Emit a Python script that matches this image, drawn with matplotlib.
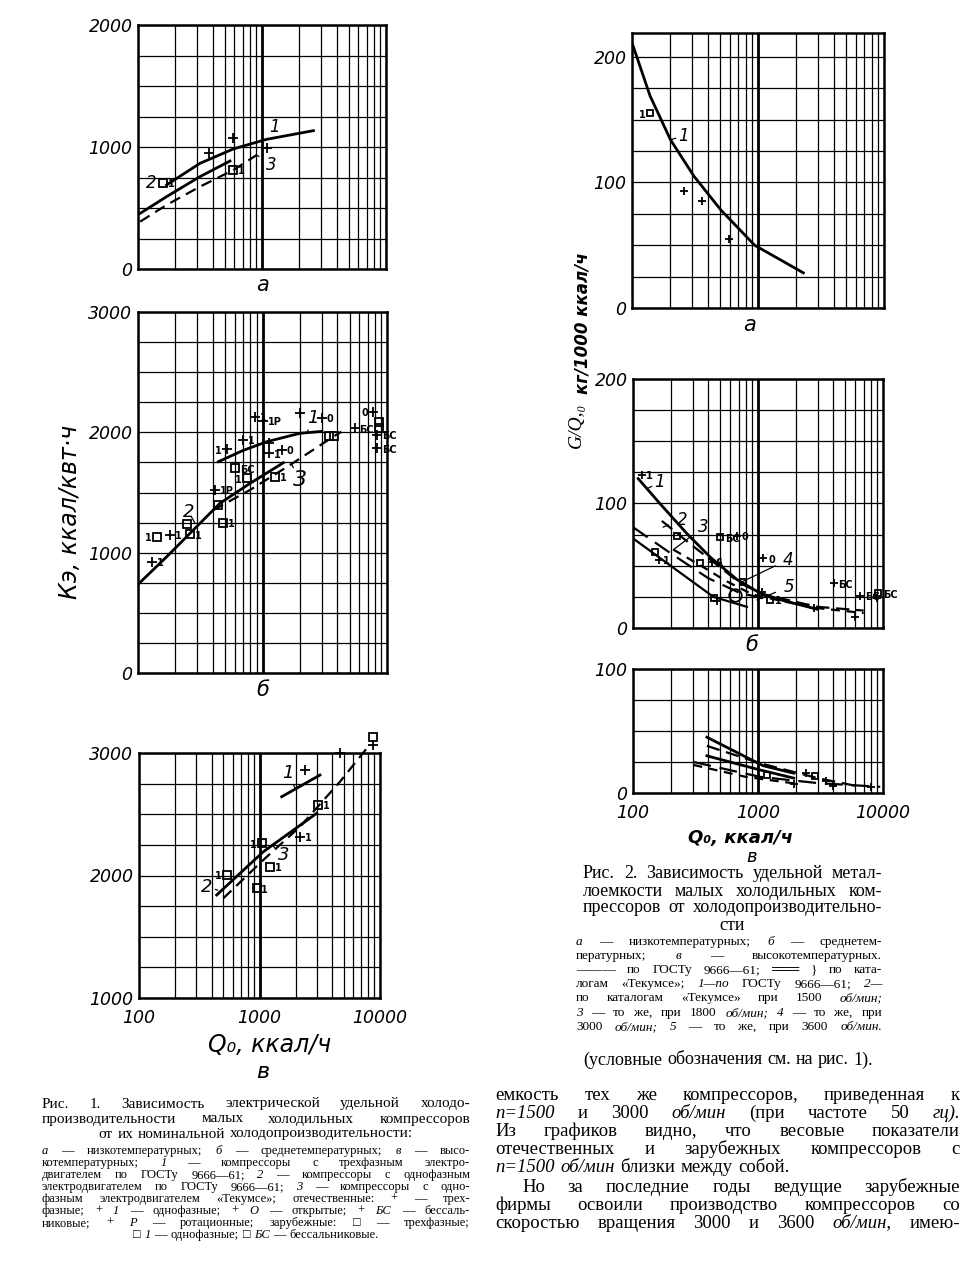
"""Recreation of a scanned page: two nomogram-style figures (Рис. 1, Рис. 2)
with their captions and a piece of body text."""

import matplotlib
matplotlib.use("Agg")
import matplotlib.pyplot as plt
import numpy as np
from matplotlib.ticker import FixedLocator

W, H = 972, 1284
SANS = ["DejaVu Sans"]
SERIF = ["Liberation Serif", "DejaVu Serif"]

# ---------------- Рис. 1 а (низкотемпературные) ----------------
LA_C1_X = [170, 316, 587, 1091, 2600]
LA_C1_Y = [689, 866, 984, 1063, 1134]
LA_C2_X = [104, 170, 316, 552]
LA_C2_Y = [456, 593, 757, 885]
LA_C3_X = [104, 170, 316, 587, 906]
LA_C3_Y = [388, 525, 675, 811, 934]
LA_PLUS_X = [376, 587, 1091]
LA_PLUS_Y = [948, 1071, 989]
LA_SQ_X = [160, 587]
LA_SQ_Y = [707, 811]
LA_SQ_LAB = ["1", "1"]

# ---------------- Рис. 1 б (среднетемпературные) ----------------
LB_C1_X = [442, 700, 1082, 2000, 3000]
LB_C1_Y = [1756, 1850, 1922, 1992, 2008]
LB_C2_X = [102, 170, 278, 455, 794, 1470]
LB_C2_Y = [745, 966, 1188, 1410, 1576, 1747]
LB_C3_X = [402, 794, 1660, 3705, 4300]
LB_C3_Y = [1354, 1521, 1728, 1964, 2005]
LB_PLUS_X = [129, 180, 416, 516, 693, 871, 1013, 1136, 1136, 1426, 2000, 2990, 5500, 7770, 8300, 8300]
LB_PLUS_Y = [925, 1147, 1521, 1858, 1936, 2130, 2094, 1908, 1825, 1853, 2157, 2122, 2033, 2171, 1980, 1866]
LB_PLUS_LAB = ["1", "1", "1P", "1", "1", "1", "1P", "", "1", "0", "", "0", "БС", "0", "БС", "БС"]
LB_PLUS_SIDE = ["r", "r", "r", "l", "r", "r", "r", "r", "r", "r", "r", "r", "r", "l", "r", "r"]
LB_SQ_X = [141, 262, 246, 484, 442, 601, 746, 1260, 3400, 3750, 8700, 8700]
LB_SQ_Y = [1133, 1153, 1236, 1249, 1400, 1701, 1618, 1631, 1972, 1972, 2090, 2040]
LB_SQ_LAB = ["1", "1", "", "1", "", "БС", "1", "1", "", "", "", ""]
LB_SQ_SIDE = ["l", "r", "r", "r", "r", "r", "l", "r", "r", "r", "r", "r"]

# ---------------- Рис. 1 в (высокотемпературные) ----------------
LV_C1_X = [1528, 3177]
LV_C1_Y = [2643, 2820]
LV_C2_X = [441, 1076, 2985]
LV_C2_Y = [1841, 2194, 2508]
LV_C3_X = [501, 1076, 2167, 4656, 7765]
LV_C3_Y = [1814, 2127, 2398, 2766, 3038]
LV_PLUS_X = [2390, 2167, 4656, 8800]
LV_PLUS_Y = [2861, 2317, 2997, 3065]
LV_PLUS_LAB = ["", "1", "", ""]
LV_SQ_X = [3067, 1042, 1222, 533, 945, 8800]
LV_SQ_Y = [2576, 2263, 2072, 2004, 1895, 3133]
LV_SQ_LAB = ["1", "1", "1", "1", "1", "1"]
LV_SQ_SIDE = ["r", "l", "r", "l", "r", "r"]

# ---------------- Рис. 2 а ----------------
RA_C1_X = [101, 139, 202, 310, 508, 940, 2290]
RA_C1_Y = [210, 169, 134, 105, 78, 50, 28]
RA_PLUS_X = [258, 362, 585]
RA_PLUS_Y = [93, 85, 55]
RA_SQ_X = [140]
RA_SQ_Y = [155]

# ---------------- Рис. 2 б ----------------
RB_C1_X = [110, 164, 269, 414, 678, 1037, 1600, 3000]
RB_C1_Y = [120, 100, 76, 57, 39, 28, 22, 15]
RB_C2_X = [170, 300, 440, 720, 1100, 3000, 7000]
RB_C2_Y = [86, 66, 53, 36, 27, 17, 14]
RB_C3_X = [210, 350, 550, 900, 1500, 3000, 7000]
RB_C3_Y = [63, 50, 38, 27, 22, 16, 12]
RB_C4_X = [100, 200, 400, 720, 1100]
RB_C4_Y = [81, 60, 40, 28, 24]
RB_C5_X = [100, 200, 440, 815]
RB_C5_Y = [72, 50, 25, 17]
RB_PLUS_X = [117, 160, 428, 480, 680, 470, 1076, 1100, 2790, 4030, 6020, 6600, 9000]
RB_PLUS_Y = [123, 55, 53, 52, 74, 22, 29, 56, 16, 36, 9, 26, 24]
RB_PLUS_LAB = ["1", "1", "1", "", "0", "", "", "0", "", "БС", "", "БС", ""]
RB_SQ_X = [224, 150, 345, 441, 500, 757, 1256, 9200]
RB_SQ_Y = [74, 61, 52, 24, 73, 37, 22.5, 28]
RB_SQ_LAB = ["", "", "", "", "БС", "", "1", "БС"]
RB_CIRC_X = [657]
RB_CIRC_Y = [26.5]

# ---------------- Рис. 2 в ----------------
RV_C1_X = [390, 700, 1100, 1930]
RV_C1_Y = [45, 32, 22, 16]
RV_C2_X = [390, 1040, 3000, 6600]
RV_C2_Y = [38, 24, 12, 5]
RV_C3_X = [390, 1000, 1930]
RV_C3_Y = [30, 19, 12]
RV_C4_X = [305, 1040, 3000, 9500]
RV_C4_Y = [25, 13, 8, 5]
RV_C5_X = [305, 800, 1930]
RV_C5_Y = [22.6, 13, 7.8]
RV_PLUS_X = [2400, 1930, 3500, 4000, 8000]
RV_PLUS_Y = [16, 7, 10, 6, 5]
RV_SQ_X = [1180, 2870]
RV_SQ_Y = [14.5, 13.7]

X_MAJOR = [100, 1000, 10000]
X_LABELS = ["100", "1000", "10000"]

CAP1_HEAD = [
    "Рис. 1. Зависимость  электрической удельной  холодо-",
    "производительности  малых  холодильных  компрессоров",
    "от  их  номинальной  холодопроизводительности:",
]
CAP1_BODY = [
    "~а — низкотемпературных; ~б — среднетемпературных; ~в — высо-",
    "котемпературных; ~1 — компрессоры с трехфазным электро-",
    "двигателем по ГОСТу 9666—61; ~2 — компрессоры с однофазным",
    "электродвигателем по ГОСТу 9666—61; ~3 — компрессоры с одно-",
    "фазным электродвигателем «Текумсе»; отечественные: + — трех-",
    "фазные; + ~1 — однофазные; + ~О — открытые; + ~БС — бессаль-",
    "никовые; + ~Р — ротационные; зарубежные: □ — трехфазные;",
    "□ ~1 — однофазные; □ ~БС — бессальниковые.",
]
CAP2_HEAD = [
    "Рис. 2. Зависимость удельной метал-",
    "лоемкости малых холодильных ком-",
    "прессоров от холодопроизводительно-",
    "сти",
]
CAP2_BODY = [
    "~а — низкотемпературных; ~б — среднетем-",
    "пературных; ~в — высокотемпературных.",
    "——— по ГОСТу 9666—61; ═══ } по ката-",
    "логам «Текумсе»; ~1—по ГОСТу 9666—61; ~2—",
    "по каталогам «Текумсе» при 1500 ~об/мин;",
    "~3 — то же, при 1800 ~об/мин; ~4 — то же, при",
    "3000 ~об/мин; ~5 — то же, при 3600 ~об/мин.",
]
CAP2_NOTE = "(условные обозначения см. на рис. 1)."
BODY = [
    "емкость тех же компрессоров, приведенная к",
    "~n=1500 и 3000 ~об/мин (при частоте 50 ~гц).",
    "Из графиков видно, что весовые показатели",
    "отечественных и зарубежных компрессоров с",
    "~n=1500 ~об/мин близки между собой.",
    "Но за последние годы ведущие зарубежные",
    "фирмы освоили производство компрессоров со",
    "скоростью вращения 3000 и 3600 ~об/мин, имею-",
]


def fx(px):
    return px / W


def fy(py):
    return 1 - py / H


def panel(fig, box, ymin, ymax, ystep, yticks, ylabels, xlabels=False):
    x0, y0, x1, y1 = box
    ax = fig.add_axes([fx(x0), fy(y1), (x1 - x0) / W, (y1 - y0) / H])
    ax.set_xscale("log")
    ax.set_xlim(100, 10000)
    ax.set_ylim(ymin, ymax)
    ax.xaxis.set_major_locator(FixedLocator(X_MAJOR))
    ax.xaxis.set_minor_locator(
        FixedLocator([k * 10 ** d for d in (2, 3) for k in range(2, 10)]))
    ax.yaxis.set_major_locator(FixedLocator(yticks))
    ax.yaxis.set_minor_locator(FixedLocator(np.arange(ymin, ymax + 1, ystep)))
    ax.grid(True, which="both", color="black", lw=0.9)
    ax.axvline(1000, color="black", lw=2.0)
    ax.tick_params(which="both", length=0)
    ax.tick_params(axis="y", pad=4)
    ax.tick_params(axis="x", pad=8)
    ax.set_yticklabels(ylabels, fontsize=12.5, fontstyle="italic", family=SANS)
    if xlabels:
        ax.set_xticklabels(X_LABELS, fontsize=12.5, fontstyle="italic", family=SANS)
    else:
        ax.set_xticklabels([])
    for s in ax.spines.values():
        s.set_linewidth(1.8)
    return ax


def curve(ax, xs, ys, style="-", lw=2.0, clip=True):
    if style == "-":
        ax.plot(xs, ys, "-", color="black", lw=lw, clip_on=clip)
    else:
        ax.plot(xs, ys, color="black", lw=lw * 0.8, dashes=style, clip_on=clip)


def marks(ax, xs, ys, marker, labels=None, sides=None, ms=7):
    ax.plot(xs, ys, ls="none", marker=marker, ms=ms, mfc="none", mec="black",
            mew=1.3, clip_on=False, zorder=4)
    if labels is None:
        return
    sides = sides or ["r"] * len(labels)
    for x, y, lab, sd in zip(xs, ys, labels, sides):
        if not lab:
            continue
        off = 3.5 if sd == "r" else -3.5
        ax.annotate(lab, (x, y), xytext=(off, -1), textcoords="offset points",
                    fontsize=7, ha="left" if sd == "r" else "right",
                    va="center", family=SANS, fontweight="bold")


def tag(ax, text, xy, xyt, size=12):
    ax.annotate(text, xy=xy, xytext=xyt, fontsize=size, fontstyle="italic",
                family=SANS, ha="center", va="center",
                arrowprops=dict(arrowstyle="-", lw=0.9, shrinkA=4, shrinkB=0))


def put_line(fig, r, text, x0, x1, y, size, mode="justify"):
    """Place one line of caption text word by word, justified or centred."""
    words = text.split()
    styles = []
    for i, w in enumerate(words):
        if w.startswith("~"):
            styles.append("italic")
            words[i] = w[1:]
        else:
            styles.append("normal")
    n = len(words)
    while True:
        arts = [fig.text(0, fy(y), w, fontsize=size, family=SERIF,
                         fontstyle=st, va="center", ha="left")
                for w, st in zip(words, styles)]
        widths = [t.get_window_extent(r).width for t in arts]
        total = sum(widths)
        em = size * 100 / 72
        if n > 1 and (x1 - x0 - total) / (n - 1) < 0.22 * em and size > 6:
            for t in arts:
                t.remove()
            size -= 0.25
            continue
        break
    sp = em * 0.3
    if mode == "justify" and n > 1:
        gap = (x1 - x0 - total) / (n - 1)
        start = x0
    elif mode == "center":
        gap = sp
        start = (x0 + x1) / 2 - (total + gap * (n - 1)) / 2
    else:
        gap = sp
        start = x0
    x = start
    for t, w in zip(arts, widths):
        t.set_x(fx(x))
        x += w + gap


def main():
    fig = plt.figure(figsize=(W / 100, H / 100), dpi=100)
    fig.patch.set_facecolor("white")

    # ---- Рис. 1 а ----
    ax = panel(fig, (138, 25, 386, 269), 0, 2000, 250, [0, 1000, 2000],
               ["0", "1000", "2000"])
    curve(ax, LA_C1_X, LA_C1_Y)
    curve(ax, LA_C2_X, LA_C2_Y)
    curve(ax, LA_C3_X, LA_C3_Y, style=(5, 3))
    marks(ax, LA_PLUS_X, LA_PLUS_Y, "+")
    marks(ax, LA_SQ_X, LA_SQ_Y, "s", LA_SQ_LAB, ms=5.5)
    tag(ax, "1", (1091, 1063), (1250, 1160))
    tag(ax, "2", (150, 560), (129, 702))
    tag(ax, "3", (906, 934), (1197, 852))
    fig.text(fx(263), fy(285), "а", fontsize=15, fontstyle="italic",
             family=SANS, ha="center", va="center")

    # ---- Рис. 1 б ----
    ax = panel(fig, (138, 312, 387, 673), 0, 3000, 250, [0, 1000, 2000, 3000],
               ["0", "1000", "2000", "3000"])
    curve(ax, LB_C1_X, LB_C1_Y)
    curve(ax, LB_C2_X, LB_C2_Y)
    curve(ax, LB_C3_X, LB_C3_Y, style=(5, 3))
    marks(ax, LB_PLUS_X, LB_PLUS_Y, "+", LB_PLUS_LAB, LB_PLUS_SIDE)
    marks(ax, LB_SQ_X, LB_SQ_Y, "s", LB_SQ_LAB, LB_SQ_SIDE, ms=5.5)
    tag(ax, "1", (2300, 2010), (2560, 2117), size=13)
    tag(ax, "2", (287, 1246), (254, 1341), size=13)
    tag(ax, "3", (1700, 1740), (2000, 1600), size=16)
    fig.text(fx(263), fy(690), "б", fontsize=15, fontstyle="italic",
             family=SANS, ha="center", va="center")
    fig.text(fx(70), fy(512), "Кэ, ккал/квт·ч", fontsize=17,
             fontstyle="italic", family=SANS, rotation=90,
             ha="center", va="center")

    # ---- Рис. 1 в ----
    ax = panel(fig, (139, 753, 380, 998), 1000, 3000, 250, [1000, 2000, 3000],
               ["1000", "2000", "3000"], xlabels=True)
    curve(ax, LV_C1_X, LV_C1_Y)
    curve(ax, LV_C2_X, LV_C2_Y)
    curve(ax, LV_C3_X, LV_C3_Y, style=(5, 3), clip=False)
    marks(ax, LV_PLUS_X, LV_PLUS_Y, "+", LV_PLUS_LAB)
    marks(ax, LV_SQ_X, LV_SQ_Y, "s", LV_SQ_LAB, LV_SQ_SIDE, ms=5.5)
    tag(ax, "1", (2000, 2700), (1734, 2834), size=13)
    tag(ax, "2", (450, 1880), (365, 1909), size=13)
    tag(ax, "3", (1263, 2249), (1574, 2167), size=13)
    fig.text(fx(270), fy(1045), "Q₀, ккал/ч", fontsize=17, fontstyle="italic",
             family=SANS, ha="center", va="center")
    fig.text(fx(263), fy(1072), "в", fontsize=16, fontstyle="italic",
             family=SANS, ha="center", va="center")

    # ---- Рис. 2 а ----
    ax = panel(fig, (632, 33, 884, 308), 0, 219, 25, [0, 100, 200],
               ["0", "100", "200"])
    curve(ax, RA_C1_X, RA_C1_Y)
    marks(ax, RA_PLUS_X, RA_PLUS_Y, "+", ms=6)
    marks(ax, RA_SQ_X, RA_SQ_Y, "s", ["1"], ["l"], ms=5)
    tag(ax, "1", (202, 134), (258, 137))
    fig.text(fx(750), fy(325), "а", fontsize=15, fontstyle="italic",
             family=SANS, ha="center", va="center")

    # ---- Рис. 2 б ----
    ax = panel(fig, (633, 379, 883, 628), 0, 200, 25, [0, 100, 200],
               ["0", "100", "200"])
    curve(ax, RB_C1_X, RB_C1_Y)
    curve(ax, RB_C2_X, RB_C2_Y, style=(6, 3))
    curve(ax, RB_C3_X, RB_C3_Y, style=(4, 3))
    curve(ax, RB_C4_X, RB_C4_Y, style=(8, 4))
    curve(ax, RB_C5_X, RB_C5_Y, lw=1.6)
    marks(ax, RB_PLUS_X, RB_PLUS_Y, "+", RB_PLUS_LAB, ms=6)
    marks(ax, RB_SQ_X, RB_SQ_Y, "s", RB_SQ_LAB, ms=5)
    marks(ax, RB_CIRC_X, RB_CIRC_Y, "o", ms=9)
    tag(ax, "1", (130, 112), (164, 117))
    tag(ax, "2", (174, 81), (246, 87))
    tag(ax, "3", (211, 63), (364, 81))
    tag(ax, "4", (742, 37), (1750, 55))
    tag(ax, "5", (980, 22.5), (1760, 33))
    fig.text(fx(752), fy(645), "б", fontsize=15, fontstyle="italic",
             family=SANS, ha="center", va="center")
    fig.text(fx(576), fy(425), "G/Q,₀", fontsize=14, family=SERIF,
             fontstyle="italic", rotation=90, ha="center", va="center")
    fig.text(fx(582), fy(323), "кг/1000 ккал/ч", fontsize=12,
             fontstyle="italic", fontweight="bold", family=SANS,
             rotation=90, ha="center", va="center")

    # ---- Рис. 2 в ----
    ax = panel(fig, (633, 669, 883, 793), 0, 100, 25, [0, 100], ["0", "100"],
               xlabels=True)
    curve(ax, RV_C1_X, RV_C1_Y)
    curve(ax, RV_C2_X, RV_C2_Y, style=(6, 3))
    curve(ax, RV_C3_X, RV_C3_Y)
    curve(ax, RV_C4_X, RV_C4_Y, style=(8, 4))
    curve(ax, RV_C5_X, RV_C5_Y, style=(4, 3))
    marks(ax, RV_PLUS_X, RV_PLUS_Y, "+", ms=6)
    marks(ax, RV_SQ_X, RV_SQ_Y, "s", ms=5)
    fig.text(fx(740), fy(838), "Q₀, ккал/ч", fontsize=13, fontstyle="italic",
             fontweight="bold", family=SANS, ha="center", va="center")
    fig.text(fx(752), fy(857), "в", fontsize=13, fontstyle="italic",
             family=SANS, ha="center", va="center")

    # ---- captions and body text ----
    r = fig.canvas.get_renderer()
    ys = [1104, 1119, 1134]
    for i, (line, y) in enumerate(zip(CAP1_HEAD, ys)):
        put_line(fig, r, line, 42, 470, y, 11,
                 mode="center" if i == 2 else "justify")
    ys = [1151, 1163, 1175, 1187, 1199, 1211, 1223, 1235, 1247]
    for i, (line, y) in enumerate(zip(CAP1_BODY, ys)):
        put_line(fig, r, line, 42, 470, y, 9,
                 mode="center" if i == len(CAP1_BODY) - 1 else "justify")

    ys = [873, 891, 908, 925]
    for i, (line, y) in enumerate(zip(CAP2_HEAD, ys)):
        put_line(fig, r, line, 583, 882, y, 13,
                 mode="center" if i == 3 else "justify")
    ys = [942, 956, 970, 984, 998, 1013, 1027]
    for line, y in zip(CAP2_BODY, ys):
        put_line(fig, r, line, 576, 882, y, 9.5)
    put_line(fig, r, CAP2_NOTE, 583, 873, 1060, 13)

    ys = [1095, 1113, 1131, 1149, 1167, 1187, 1205, 1223]
    for i, (line, y) in enumerate(zip(BODY, ys)):
        x0 = 522 if i == 5 else 495
        mode = "left" if i == 4 else "justify"
        put_line(fig, r, line, x0, 960, y, 13.5, mode=mode)

    fig.savefig("out.png", dpi=100)
    plt.close(fig)


if __name__ == "__main__":
    main()
